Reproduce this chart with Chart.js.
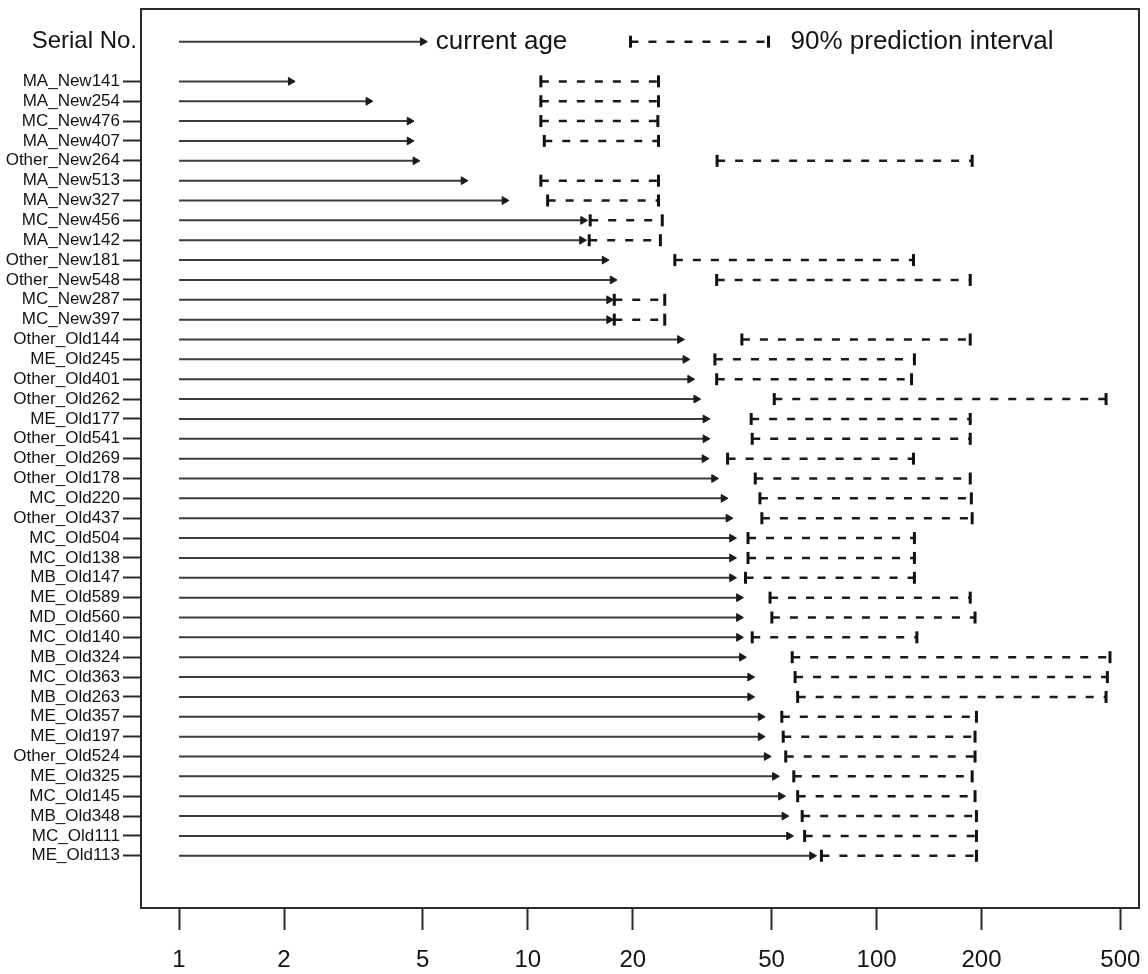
<!DOCTYPE html>
<html>
<head>
<meta charset="utf-8">
<script src="https://cdn.jsdelivr.net/npm/chart.js@4.4.1/dist/chart.umd.min.js"></script>
<style>
  html, body { margin: 0; padding: 0; background: #ffffff; }
  #wrap { width: 1148px; height: 974px; }
</style>
</head>
<body>
<div id="wrap"><canvas id="chart" width="1148" height="974"></canvas></div>
<script>
// Serial numbers, top to bottom
const serials = [
  'MA_New141', 'MA_New254', 'MC_New476', 'MA_New407', 'Other_New264',
  'MA_New513', 'MA_New327', 'MC_New456', 'MA_New142', 'Other_New181',
  'Other_New548', 'MC_New287', 'MC_New397', 'Other_Old144', 'ME_Old245',
  'Other_Old401', 'Other_Old262', 'ME_Old177', 'Other_Old541', 'Other_Old269',
  'Other_Old178', 'MC_Old220', 'Other_Old437', 'MC_Old504', 'MC_Old138',
  'MB_Old147', 'ME_Old589', 'MD_Old560', 'MC_Old140', 'MB_Old324',
  'MC_Old363', 'MB_Old263', 'ME_Old357', 'ME_Old197', 'Other_Old524',
  'ME_Old325', 'MC_Old145', 'MB_Old348', 'MC_Old111', 'ME_Old113'
];

// Current age of each item
const currentAge = [
  2.09, 3.49, 4.58, 4.58, 4.76,
  6.54, 8.57, 14.4, 14.3, 16.6,
  17.5, 17.1, 17.1, 27.3, 28.3,
  29.2, 30.4, 32.3, 32.3, 32.1,
  34.2, 36.4, 37.6, 38.5, 38.5,
  38.5, 40.3, 40.3, 40.3, 41.1,
  43.4, 43.4, 46.5, 46.5, 48.4,
  51.1, 53.2, 54.4, 56.1, 65.3
];

// 90% prediction interval, lower bound
const intervalLow = [
  10.9, 10.9, 10.9, 11.15, 34.9,
  10.9, 11.4, 15.1, 15.0, 26.4,
  34.8, 17.7, 17.7, 41.1, 34.4,
  34.8, 50.9, 43.7, 44.0, 37.4,
  44.9, 46.3, 46.9, 42.8, 42.8,
  42.1, 49.5, 50.1, 44.0, 57.3,
  58.4, 59.4, 53.5, 54.0, 54.9,
  57.9, 59.4, 61.2, 62.2, 69.5
];

// 90% prediction interval, upper bound
const intervalHigh = [
  23.7, 23.7, 23.6, 23.7, 188,
  23.7, 23.7, 24.3, 24.0, 127.6,
  185.6, 24.7, 24.7, 185.6, 128.4,
  126, 455, 185.6, 185.6, 127.6,
  185.6, 187, 188, 128.4, 128.4,
  128.4, 185.6, 191.6, 130.5, 467,
  459, 455, 193.4, 191.6, 191.6,
  188, 191.6, 193.4, 193.4, 193.4
];

// Log-axis tick values
const xTickValues = [1, 2, 5, 10, 20, 50, 100, 200, 500];

// Key row samples
const keyAge = 5;
const keyLow = 19.7;
const keyHigh = 49;

const KEY_ROW = -2;
const FONT = "'Liberation Sans', Arial, Helvetica, sans-serif";
const INK = '#141414';

// One polyline per row, separated by gaps (y: null)
const arrowPoints = [];
const intervalPoints = [];
function addRow(row, age, lo, hi) {
  arrowPoints.push({ x: 1, y: row }, { x: age, y: row, head: true }, { x: age, y: null });
  intervalPoints.push({ x: lo, y: row, cap: true }, { x: hi, y: row, cap: true }, { x: hi, y: null });
}
addRow(KEY_ROW, keyAge, keyLow, keyHigh);
serials.forEach((s, i) => addRow(i, currentAge[i], intervalLow[i], intervalHigh[i]));

// Frame around the plotting region
const frame = {
  id: 'frame',
  beforeDatasetsDraw(chart) {
    const { ctx, chartArea: a } = chart;
    ctx.save();
    ctx.strokeStyle = '#2a2a2a';
    ctx.lineWidth = 2;
    ctx.strokeRect(a.left, a.top, a.right - a.left, a.bottom - a.top);
    ctx.restore();
  }
};

// Header label and key captions
const captions = {
  id: 'captions',
  afterDraw(chart) {
    const { ctx, chartArea: a } = chart;
    const xs = chart.scales.x, ys = chart.scales.y;
    const yk = ys.getPixelForValue(KEY_ROW);
    ctx.save();
    ctx.fillStyle = INK;
    ctx.textBaseline = 'middle';
    ctx.textAlign = 'right';
    ctx.font = `24px ${FONT}`;
    ctx.fillText('Serial No.', a.left - 4, yk);
    ctx.textAlign = 'left';
    ctx.font = `26px ${FONT}`;
    ctx.fillText('current age', xs.getPixelForValue(keyAge) + 13, yk);
    ctx.fillText('90% prediction interval', xs.getPixelForValue(keyHigh) + 22, yk);
    ctx.restore();
  }
};

new Chart(document.getElementById('chart'), {
  type: 'scatter',
  data: {
    datasets: [
      {
        label: 'current age',
        data: arrowPoints,
        showLine: true,
        spanGaps: false,
        borderColor: '#3c3c3c',
        borderWidth: 2,
        pointStyle: 'triangle',
        rotation: 90,
        pointRadius: c => (c.raw && c.raw.head ? 4.5 : 0),
        pointBackgroundColor: '#1a1a1a',
        pointBorderColor: '#1a1a1a',
        pointBorderWidth: 1
      },
      {
        label: '90% prediction interval',
        data: intervalPoints,
        showLine: true,
        spanGaps: false,
        borderColor: '#1a1a1a',
        borderWidth: 2.5,
        borderDash: [8, 10],
        pointStyle: 'line',
        rotation: 90,
        pointRadius: c => (c.raw && c.raw.cap ? 6 : 0),
        pointBorderColor: '#111111',
        pointBorderWidth: 3
      }
    ]
  },
  options: {
    responsive: false,
    animation: false,
    events: [],
    devicePixelRatio: 1,
    layout: { padding: { top: 8, right: 8, bottom: 0, left: 0 } },
    plugins: {
      legend: { display: false },
      tooltip: { enabled: false }
    },
    scales: {
      x: {
        type: 'logarithmic',
        position: 'bottom',
        min: 0.778,
        max: 565.6,
        afterBuildTicks: scale => { scale.ticks = xTickValues.map(v => ({ value: v })); },
        afterFit: scale => {
          scale.height = 66;
          scale.paddingLeft = 0;
          scale.paddingRight = 0;
        },
        ticks: {
          autoSkip: false,
          maxRotation: 0,
          padding: 16,
          color: INK,
          font: { family: FONT, size: 24 },
          callback: v => String(v)
        },
        grid: {
          drawOnChartArea: false,
          drawTicks: true,
          tickLength: 22,
          tickColor: '#2a2a2a',
          tickWidth: 2
        },
        border: { display: false }
      },
      y: {
        type: 'linear',
        reverse: true,
        min: -3.645,
        max: 41.63,
        afterBuildTicks: scale => { scale.ticks = serials.map((s, i) => ({ value: i })); },
        afterFit: scale => {
          scale.width = 141;
          scale.paddingTop = 0;
          scale.paddingBottom = 0;
        },
        ticks: {
          autoSkip: false,
          padding: 3,
          color: INK,
          font: { family: FONT, size: 17 },
          callback: v => serials[v]
        },
        grid: {
          drawOnChartArea: false,
          drawTicks: true,
          tickLength: 18,
          tickColor: '#2a2a2a',
          tickWidth: 2
        },
        border: { display: false }
      }
    }
  },
  plugins: [frame, captions]
});
</script>
</body>
</html>
